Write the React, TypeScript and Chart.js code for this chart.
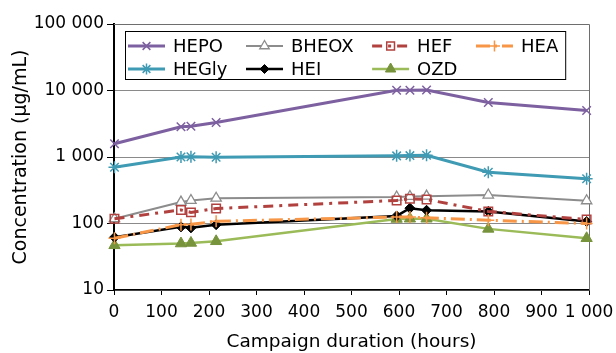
import React, { useEffect, useRef } from 'react';
import { Chart, registerables } from 'chart.js';
import { drawPoint } from 'chart.js/helpers';

Chart.register(...registerables);

// ---- data ----
const HOURS = [1, 141, 162, 215, 595, 623, 658, 788, 995];
const HEPO = [1580, 2850, 2900, 3300, 10100, 10100, 10200, 6600, 5000];
const HEGLY = [700, 1000, 1010, 990, 1040, 1050, 1060, 590, 470];
const BHEOX = [118, 210, 222, 240, 250, 255, 258, 268, 220];
const HEF = [118, 160, 147, 168, 222, 235, 230, 152, 115];
const HEA = [60, 96, 97, 108, 125, 125, 122, 112, 100];
const HEI = [62, 89, 86, 96, 130, 170, 158, 152, 107];
const OZD = [47, 50, 51, 54, 117, 118, 118, 83, 60];

const X_TICKS = [0, 100, 200, 300, 400, 500, 600, 700, 800, 900, 1000];
const Y_TICKS = [10, 100, 1000, 10000, 100000];

const X_TITLE = 'Campaign duration (hours)';
const Y_TITLE = 'Concentration (µg/mL)';

const LEGEND_ROWS = [
  ['HEPO', 'BHEOX', 'HEF', 'HEA'],
  ['HEGly', 'HEI', 'OZD'],
];

const FONT = "'DejaVu Sans', 'Liberation Sans', sans-serif";

type Series = {
  label: string;
  values: number[];
  color: string;
  width: number;
  dash: number[];
  style: string;
  radius: number;
  fill: string;
  stroke: string;
  pw: number;
};

const SERIES: Series[] = [
  { label: 'HEPO', values: HEPO, color: '#7D60A0', width: 3, dash: [], style: 'crossRot', radius: 6, fill: '#7D60A0', stroke: '#7D60A0', pw: 1.5 },
  { label: 'HEGly', values: HEGLY, color: '#3F9AB3', width: 3, dash: [], style: 'star', radius: 6, fill: '#3F9AB3', stroke: '#3F9AB3', pw: 1.5 },
  { label: 'HEA', values: HEA, color: '#F79646', width: 3, dash: [14, 5, 2, 5], style: 'cross', radius: 6, fill: '#F79646', stroke: '#F79646', pw: 1.5 },
  { label: 'HEF', values: HEF, color: '#B0413E', width: 3, dash: [10, 6, 3, 6], style: 'rect', radius: 6, fill: 'rgba(0,0,0,0)', stroke: '#B0413E', pw: 1.5 },
  { label: 'BHEOX', values: BHEOX, color: '#8C8C8C', width: 2, dash: [], style: 'triangle', radius: 6, fill: '#ffffff', stroke: '#8C8C8C', pw: 1.3 },
  { label: 'HEI', values: HEI, color: '#000000', width: 2.5, dash: [], style: 'rectRot', radius: 5, fill: '#000000', stroke: '#000000', pw: 1 },
  { label: 'OZD', values: OZD, color: '#9BBB59', width: 2.5, dash: [], style: 'triangle', radius: 6.5, fill: '#77933C', stroke: '#77933C', pw: 1 },
];

function fmt(v: number): string {
  return String(v).replace(/\B(?=(\d{3})+(?!\d))/g, ' ');
}

const framePlugin = {
  id: 'frame',
  beforeDatasetsDraw(chart: any) {
    const { ctx, chartArea } = chart;
    ctx.save();
    ctx.strokeStyle = '#6e6e6e';
    ctx.lineWidth = 1;
    ctx.beginPath();
    ctx.moveTo(chartArea.left, chartArea.top + 0.5);
    ctx.lineTo(chartArea.right + 0.5, chartArea.top + 0.5);
    ctx.lineTo(chartArea.right + 0.5, chartArea.bottom);
    ctx.stroke();
    ctx.restore();
  },
};

const legendPlugin = {
  id: 'boxLegend',
  afterDraw(chart: any) {
    const { ctx, chartArea } = chart;
    const byLabel: Record<string, Series> = {};
    SERIES.forEach((s) => (byLabel[s.label] = s));
    ctx.save();
    ctx.font = `18px ${FONT}`;
    const lineLen = 37;
    const textGap = 8;
    const colGap = 18.5;
    const nCols = Math.max(...LEGEND_ROWS.map((r) => r.length));
    const colW: number[] = [];
    for (let c = 0; c < nCols; c++) {
      let m = 0;
      LEGEND_ROWS.forEach((r) => {
        if (r[c]) m = Math.max(m, ctx.measureText(r[c]).width);
      });
      colW.push(m);
    }
    const boxLeft = chartArea.left + 11;
    const boxTop = chartArea.top + 7;
    const innerLeft = boxLeft + 3;
    let totalW = 3;
    colW.forEach((w, i) => {
      totalW += lineLen + textGap + w + (i < colW.length - 1 ? colGap : 0);
    });
    totalW += 7;
    const rowH = 23;
    const boxH = 48;
    ctx.fillStyle = '#ffffff';
    ctx.fillRect(boxLeft, boxTop, totalW, boxH);
    ctx.strokeStyle = '#000';
    ctx.lineWidth = 1;
    ctx.strokeRect(boxLeft + 0.5, boxTop + 0.5, totalW, boxH);

    LEGEND_ROWS.forEach((row, r) => {
      const y = boxTop + 15 + r * rowH;
      let x = innerLeft;
      row.forEach((label, c) => {
        const s = byLabel[label];
        ctx.save();
        ctx.strokeStyle = s.color;
        ctx.lineWidth = s.width;
        ctx.setLineDash(s.dash);
        ctx.beginPath();
        ctx.moveTo(x, y);
        ctx.lineTo(x + lineLen, y);
        ctx.stroke();
        ctx.setLineDash([]);
        ctx.fillStyle = s.fill;
        ctx.strokeStyle = s.stroke;
        ctx.lineWidth = s.pw;
        drawPoint(ctx, { pointStyle: s.style as any, radius: s.radius - 0.5, rotation: 0, borderWidth: s.pw }, x + lineLen / 2, y);
        ctx.restore();
        ctx.fillStyle = '#000';
        ctx.textBaseline = 'middle';
        ctx.textAlign = 'left';
        ctx.fillText(label, x + lineLen + textGap, y + 1);
        x += lineLen + textGap + colW[c] + colGap;
      });
    });
    ctx.restore();
  },
};

export default function App() {
  const ref = useRef<HTMLCanvasElement | null>(null);

  useEffect(() => {
    if (!ref.current) return;
    Chart.defaults.color = '#000';
    const chart = new Chart(ref.current, {
      type: 'line',
      data: {
        datasets: SERIES.map((s) => ({
          label: s.label,
          data: HOURS.map((h, i) => ({ x: h, y: s.values[i] })),
          borderColor: s.color,
          borderWidth: s.width,
          borderDash: s.dash,
          borderCapStyle: 'butt',
          tension: 0,
          fill: false,
          pointStyle: s.style as any,
          pointRadius: s.radius,
          pointBackgroundColor: s.fill,
          pointBorderColor: s.stroke,
          pointBorderWidth: s.pw,
          clip: false as any,
        })),
      },
      options: {
        animation: false,
        responsive: true,
        maintainAspectRatio: false,
        layout: { padding: { left: 0, top: 24, right: 27, bottom: 0 } },
        plugins: { legend: { display: false }, tooltip: { enabled: false } },
        scales: {
          x: {
            type: 'linear',
            min: 0,
            max: 1000,
            afterBuildTicks: (s: any) => {
              s.ticks = X_TICKS.map((v) => ({ value: v }));
            },
            afterFit: (s: any) => {
              s.height = 63;
              s.paddingLeft = 0;
              s.paddingRight = 0;
            },
            ticks: {
              callback: (v: any) => fmt(Number(v)),
              font: { family: FONT, size: 17 },
              color: '#000',
              padding: 7,
              autoSkip: false,
              maxRotation: 0,
              minRotation: 0,
            },
            grid: { drawOnChartArea: false, drawTicks: true, tickColor: '#000', tickLength: 5 },
            border: { color: '#000', width: 1.5 },
            title: {
              display: true,
              text: X_TITLE,
              font: { family: FONT, size: 18.5 },
              color: '#000',
              padding: { top: 0, bottom: 0 },
            },
          },
          y: {
            type: 'logarithmic',
            min: 10,
            max: 100000,
            afterBuildTicks: (s: any) => {
              s.ticks = Y_TICKS.map((v) => ({ value: v }));
            },
            afterFit: (s: any) => {
              s.width = 114;
            },
            ticks: {
              callback: (v: any) => fmt(Number(v)),
              font: { family: FONT, size: 17 },
              color: '#000',
              padding: 3,
              autoSkip: false,
            },
            grid: { color: '#8a8a8a', lineWidth: 1, drawTicks: true, tickColor: '#000', tickLength: 7 },
            border: { color: '#000', width: 2 },
            title: {
              display: true,
              text: Y_TITLE,
              font: { family: FONT, size: 19 },
              color: '#000',
              padding: { top: 10, bottom: 0 },
            },
          },
        },
      },
      plugins: [framePlugin, legendPlugin],
    } as any);
    return () => chart.destroy();
  }, []);

  return (
    <div style={{ position: 'fixed', left: 0, top: 0, width: 616, height: 353, background: '#fff' }}>
      <canvas ref={ref} />
    </div>
  );
}
